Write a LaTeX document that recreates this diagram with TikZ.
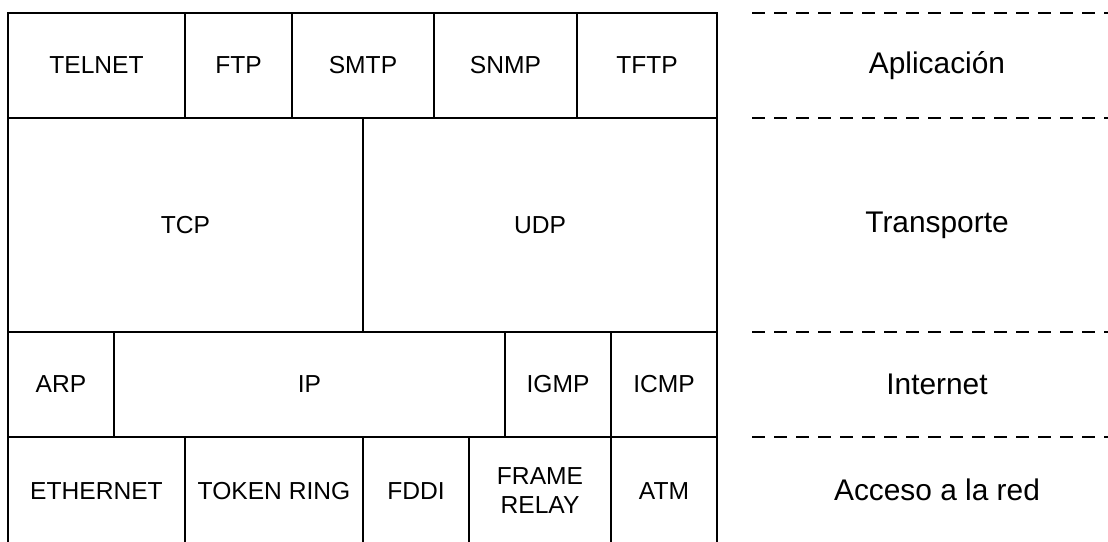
\documentclass[tikz,border=0pt]{standalone}
\usepackage{fontspec}
\setmainfont{Liberation Sans}
\newlength\px
\setlength\px{0.02cm}
\begin{document}
\begin{tikzpicture}[x=0.02cm, y=-0.02cm,
    cell/.style={draw, line width=0.7pt, rectangle, align=center, inner sep=0pt, font=\fontsize{14}{16.5}\selectfont},
    layer/.style={align=center, font=\fontsize{17}{19}\selectfont},
    sep/.style={line width=0.7pt, dash pattern=on 13\px off 9\px}]
    \useasboundingbox (0,0) rectangle (1108,541);
    % Aplicacion
    \node (telnet) [cell, minimum width=177\px, minimum height=105\px] at (96.5,65.5) {TELNET};
    \node (ftp) [cell, minimum width=107\px, minimum height=105\px] at (238.5,65.5) {FTP};
    \node (smtp) [cell, minimum width=142\px, minimum height=105\px] at (363,65.5) {SMTP};
    \node (snmp) [cell, minimum width=143\px, minimum height=105\px] at (505.5,65.5) {SNMP};
    \node (tftp) [cell, minimum width=140\px, minimum height=105\px] at (647,65.5) {TFTP};
    % Transporte
    \node (tcp) [cell, minimum width=355\px, minimum height=214\px] at (185.5,225) {TCP};
    \node (udp) [cell, minimum width=354\px, minimum height=214\px] at (540,225) {UDP};
    % Internet
    \node (arp) [cell, minimum width=106\px, minimum height=105\px] at (61,384.5) {ARP};
    \node (ip) [cell, minimum width=391\px, minimum height=105\px] at (309.5,384.5) {IP};
    \node (igmp) [cell, minimum width=106\px, minimum height=105\px] at (558,384.5) {IGMP};
    \node (icmp) [cell, minimum width=106\px, minimum height=105\px] at (664,384.5) {ICMP};
    % Acceso a la red
    \node (ethernet) [cell, minimum width=177\px, minimum height=108\px] at (96.5,491) {ETHERNET};
    \node (token) [cell, minimum width=178\px, minimum height=108\px] at (274,491) {TOKEN RING};
    \node (fddi) [cell, minimum width=106\px, minimum height=108\px] at (416,491) {FDDI};
    \node (frame) [cell, minimum width=142\px, minimum height=108\px] at (540,491) {FRAME\\RELAY};
    \node (atm) [cell, minimum width=106\px, minimum height=108\px] at (664,491) {ATM};

    % Separadores
    \foreach \y in {13,118,332,437}
        \draw [sep] (752,\y) -- (1108,\y);

    % Capas
    \node (aplicacion) [layer] at (937,65.5) {Aplicación};
    \node (transporte) [layer] at (937,225) {Transporte};
    \node (internet) [layer] at (937,384.5) {Internet};
    \node (acceso) [layer] at (937,490) {Acceso a la red};
\end{tikzpicture}
\end{document}
